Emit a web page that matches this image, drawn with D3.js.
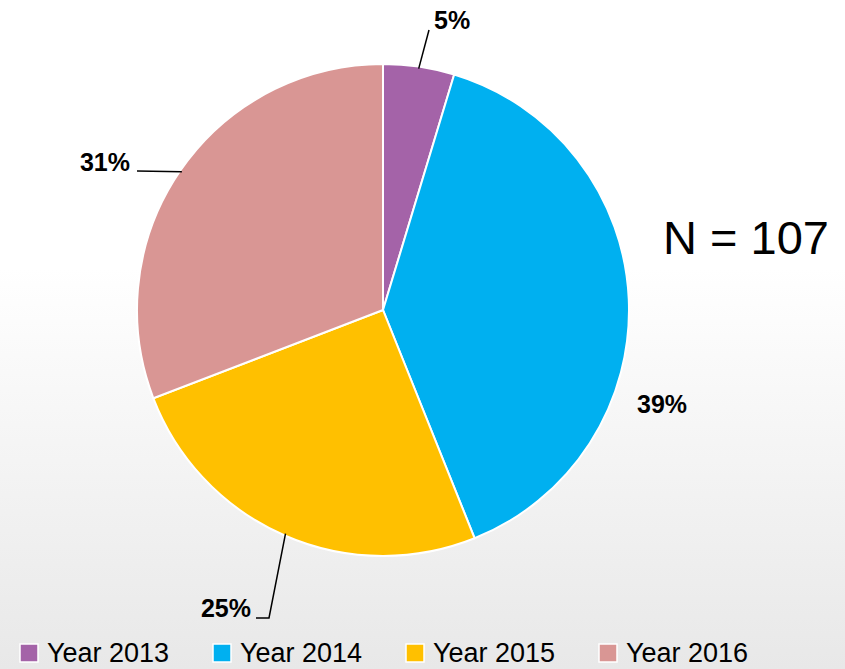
<!DOCTYPE html>
<html>
<head>
<meta charset="utf-8">
<script src="https://cdn.jsdelivr.net/npm/d3@7"></script>
<style>
  html, body { margin: 0; padding: 0; background: #fff; }
  svg { display: block; }
</style>
</head>
<body>
<div id="chart"></div>
<script>
// Data
const categories = ['Year 2013', 'Year 2014', 'Year 2015', 'Year 2016'];
const counts = [5, 42, 27, 33];
const percentLabels = ['5%', '39%', '25%', '31%'];
const totalLabel = 'N = 107';

const colors = ['#a463a8', '#00b0f0', '#ffc000', '#d99694'];

const width = 845;
const height = 669;
const cx = 383, cy = 310, radius = 246;

const svg = d3.select('#chart').append('svg')
  .attr('width', width)
  .attr('height', height);

// background fade
const defs = svg.append('defs');
const grad = defs.append('linearGradient')
  .attr('id', 'bg').attr('x1', 0).attr('y1', 0).attr('x2', 0).attr('y2', 1);
grad.append('stop').attr('offset', '0%').attr('stop-color', '#ffffff');
grad.append('stop').attr('offset', '40%').attr('stop-color', '#ffffff');
grad.append('stop').attr('offset', '100%').attr('stop-color', '#e8e8e8');
svg.append('rect').attr('width', width).attr('height', height).attr('fill', 'url(#bg)');

const data = categories.map((c, i) => ({ category: c, count: counts[i], label: percentLabels[i], color: colors[i] }));

const pie = d3.pie().value(d => d.count).sort(null);
const arc = d3.arc().innerRadius(0).outerRadius(radius);
const edgeArc = d3.arc().innerRadius(radius - 2).outerRadius(radius - 2);

const g = svg.append('g').attr('transform', `translate(${cx},${cy})`);

const arcs = pie(data);

g.selectAll('path.slice')
  .data(arcs)
  .enter()
  .append('path')
  .attr('class', 'slice')
  .attr('d', arc)
  .attr('fill', d => d.data.color)
  .attr('stroke', '#fff')
  .attr('stroke-width', 2);

// label layout (relative to chart centre): elbow points + text anchor
const labelLayout = {
  'Year 2013': { pts: [[46, -280]], text: [51, -281], anchor: 'start' },
  'Year 2014': { pts: null, text: [254, 103], anchor: 'start' },
  'Year 2015': { pts: [[-114, 308], [-127, 308]], text: [-132, 307], anchor: 'end' },
  'Year 2016': { pts: [[-246, -139]], text: [-253, -139], anchor: 'end' }
};

arcs.forEach(d => {
  const L = labelLayout[d.data.category];
  if (L.pts) {
    const start = edgeArc.centroid(d);
    g.append('path')
      .attr('d', d3.line()([start, ...L.pts]))
      .attr('fill', 'none')
      .attr('stroke', '#000')
      .attr('stroke-width', 1.5);
  }
  g.append('text')
    .attr('x', L.text[0])
    .attr('y', L.text[1])
    .attr('text-anchor', L.anchor)
    .attr('font-family', 'Liberation Sans, Arial, sans-serif')
    .attr('font-weight', 'bold')
    .attr('font-size', '25px')
    .attr('fill', '#000')
    .text(d.data.label);
});

// N label
svg.append('text')
  .attr('x', 663)
  .attr('y', 254)
  .attr('font-family', 'Liberation Sans, Arial, sans-serif')
  .attr('font-size', '47px')
  .attr('fill', '#000')
  .text(totalLabel);

// Legend
const legendX = [20, 213, 406, 599];
const legend = svg.append('g');
const items = legend.selectAll('g.item')
  .data(data)
  .enter()
  .append('g')
  .attr('class', 'item')
  .attr('transform', (d, i) => `translate(${legendX[i]},0)`);

items.append('rect')
  .attr('x', 0)
  .attr('y', 644)
  .attr('width', 18)
  .attr('height', 18)
  .attr('fill', d => d.color)
  .attr('stroke', '#fff')
  .attr('stroke-width', 1.5);

items.append('text')
  .attr('x', 27)
  .attr('y', 662)
  .attr('font-family', 'Liberation Sans, Arial, sans-serif')
  .attr('font-size', '27px')
  .attr('fill', '#000')
  .text(d => d.category);
</script>
</body>
</html>
